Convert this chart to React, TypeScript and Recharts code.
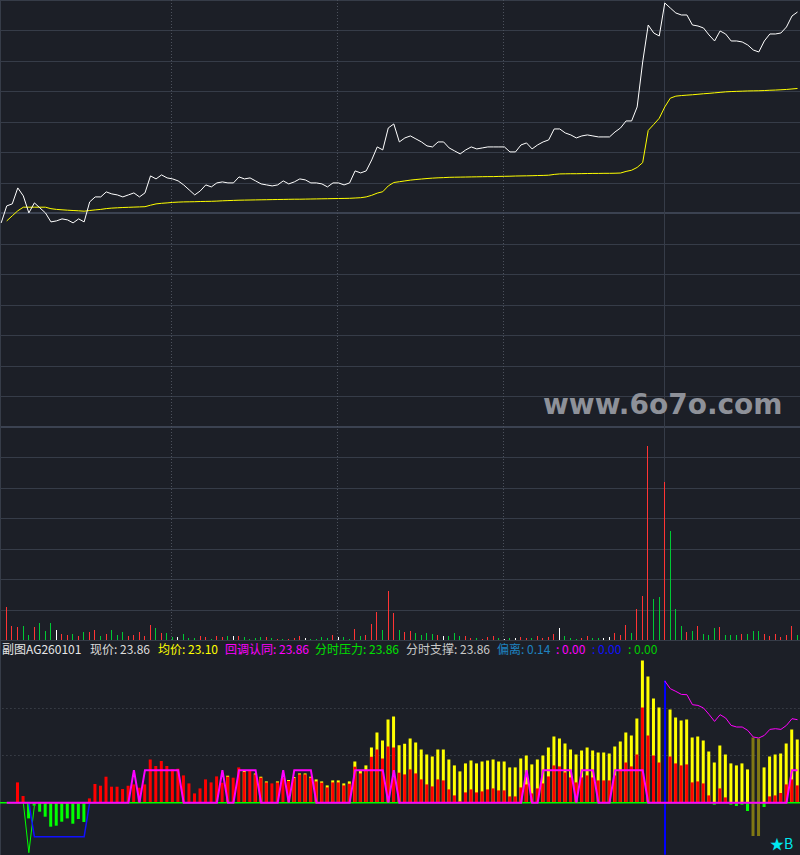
import { ComposedChart, Bar, Line, XAxis, YAxis, CartesianGrid, Cell, ReferenceLine } from "recharts";

/* 分时: price (white) and average price (yellow), one value per minute */
const PRICE = [
  21.75, 21.92, 21.94, 22.10, 22.02, 21.85, 21.95, 21.90, 21.85, 21.76,
  21.77, 21.79, 21.78, 21.75, 21.79, 21.76, 21.96, 22.01, 22.01, 22.06,
  22.04, 22.03, 22.01, 22.03, 22.05, 22.01, 22.05, 22.22, 22.19, 22.23,
  22.20, 22.19, 22.17, 22.13, 22.08, 22.03, 22.07, 22.13, 22.11, 22.15,
  22.16, 22.15, 22.15, 22.21, 22.19, 22.20, 22.17, 22.14, 22.13, 22.12,
  22.13, 22.17, 22.14, 22.16, 22.19, 22.18, 22.15, 22.15, 22.14, 22.11,
  22.15, 22.15, 22.13, 22.15, 22.27, 22.25, 22.27, 22.38, 22.51, 22.48,
  22.70, 22.74, 22.56, 22.60, 22.62, 22.59, 22.56, 22.52, 22.51, 22.56,
  22.56, 22.50, 22.47, 22.44, 22.48, 22.51, 22.49, 22.50, 22.51, 22.51,
  22.51, 22.51, 22.46, 22.46, 22.53, 22.55, 22.49, 22.53, 22.56, 22.58,
  22.69, 22.69, 22.65, 22.63, 22.60, 22.62, 22.63, 22.62, 22.61, 22.61,
  22.61, 22.66, 22.70, 22.77, 22.77, 22.91, 23.36, 23.73, 23.65, 23.62,
  23.95, 23.90, 23.85, 23.83, 23.83, 23.73, 23.72, 23.70, 23.63, 23.57,
  23.67, 23.64, 23.57, 23.57, 23.56, 23.53, 23.48, 23.46, 23.57, 23.64,
  23.64, 23.65, 23.71, 23.82, 23.86,
];

const AVG = [
  null, 21.770, 21.821, 21.871, 21.907, 21.907, 21.907, 21.907, 21.907, 21.892,
  21.885, 21.881, 21.877, 21.874, 21.871, 21.867, 21.874, 21.880, 21.885, 21.893,
  21.898, 21.901, 21.904, 21.906, 21.908, 21.910, 21.912, 21.927, 21.940, 21.946,
  21.950, 21.955, 21.958, 21.960, 21.961, 21.962, 21.964, 21.965, 21.966, 21.968,
  21.971, 21.973, 21.975, 21.977, 21.978, 21.979, 21.980, 21.981, 21.982, 21.983,
  21.984, 21.985, 21.986, 21.987, 21.987, 21.988, 21.989, 21.990, 21.991, 21.992,
  21.993, 21.994, 21.995, 21.996, 21.999, 22.002, 22.010, 22.026, 22.048, 22.062,
  22.120, 22.154, 22.162, 22.170, 22.178, 22.184, 22.189, 22.194, 22.198, 22.201,
  22.203, 22.206, 22.207, 22.208, 22.209, 22.210, 22.211, 22.212, 22.213, 22.213,
  22.215, 22.216, 22.217, 22.219, 22.220, 22.221, 22.222, 22.224, 22.225, 22.227,
  22.235, 22.240, 22.241, 22.242, 22.242, 22.243, 22.244, 22.245, 22.245, 22.246,
  22.246, 22.247, 22.249, 22.265, 22.277, 22.305, 22.353, 22.675, 22.735, 22.797,
  22.910, 22.998, 23.018, 23.024, 23.028, 23.032, 23.037, 23.042, 23.046, 23.051,
  23.056, 23.061, 23.064, 23.066, 23.068, 23.070, 23.071, 23.072, 23.074, 23.077,
  23.079, 23.082, 23.085, 23.090, 23.095,
];

const VOLUME = [
  0, 666, 280, 266, 280, 100, 266, 346, 186, 346,
  200, 120, 100, 120, 80, 166, 154, 200, 80, 120,
  200, 100, 166, 80, 100, 166, 80, 300, 234, 146,
  134, 66, 54, 120, 40, 40, 80, 54, 26, 80,
  54, 80, 80, 80, 54, 26, 40, 54, 54, 40,
  26, 26, 26, 40, 80, 40, 26, 26, 54, 40,
  100, 54, 66, 26, 214, 80, 100, 320, 566, 200,
  986, 546, 200, 166, 180, 146, 100, 146, 120, 100,
  80, 80, 146, 80, 80, 46, 46, 20, 66, 80,
  46, 20, 40, 46, 66, 46, 34, 80, 46, 66,
  120, 240, 80, 40, 20, 34, 80, 40, 40, 40,
  54, 140, 100, 300, 146, 614, 886, 3880, 820, 866,
  3166, 2180, 614, 280, 166, 180, 280, 120, 100, 246,
  266, 100, 100, 100, 120, 120, 180, 180, 120, 80,
  120, 66, 100, 280, 100,
];

// R = up, G = down, W = unchanged
const VOL_DIR = (
  "W" +
  "RRRGGRGGGW" + "RRGRGRRGRG" + "GGRRRRRGRG" + "GWGGGRRGRR" + "GWRGGGGRGR" +
  "GRRRWGGGGR" + "WGGRGRRRGR" + "RGRRGGGGRW" + "GGGRRGRRRG" + "WGWRRGRRRR" +
  "WGGGRRGGWW" + "RRRGRRRGGR" + "GGGRGRGGGR" + "GGGRGGGRRR" + "RRRG"
).split("");

/* 副图 */
const SUB_YELLOW = [
  0, 0, 0, 0, 0, 0, 0, 0, 0, 0,
  0, 0, 0, 0, 0, 0, 0, 0, 0, 0,
  0, 0, 0, 0, 0, 0, 0, 0, 0, 0,
  0, 0, 0, 0, 0, 0, 0, 0, 0, 0,
  0, 27, 0, 0, 31.7, 0, 29.3, 26, 21.3, 0,
  21.3, 0, 22.7, 25.7, 29.3, 29.3, 26, 23.3, 21.3, 17.3,
  22.3, 22.3, 19.3, 21.3, 41.3, 32.3, 37.3, 55.3, 70.3, 62.3,
  83.3, 86.3, 57.5, 59, 64.3, 60.3, 53.3, 48.3, 46.3, 53.3,
  53.3, 43.3, 37.3, 31.3, 39.3, 42.3, 39.3, 41.3, 42.3, 43.3,
  41.3, 41.3, 35.3, 35.3, 44.3, 47.3, 38.3, 43.3, 47.3, 55.3,
  66.3, 64.3, 59.3, 53.3, 48.3, 52.3, 55.3, 52.3, 50.3, 50.3,
  49.3, 56.3, 61.3, 70.3, 67.3, 84.3, 142.3, 126.3, 104.3, 95.3,
  0, 93.3, 85.3, 82.3, 83.3, 65.3, 66.3, 62.3, 51.3, 40.3,
  57.3, 48.3, 39.3, 37.3, 39.3, 33.3, 0, 0, 35.3, 46.3,
  48.3, 49.3, 59.3, 73.3, 63.3,
];

const SUB_RED = [
  0, 0, 0, 20.3, 6.7, 0, 0, 0, 0, 0,
  0, 0, 0, 0, 0, 0, 4.3, 18.7, 17, 26,
  16, 16, 13.7, 17, 18.3, 15, 18.3, 43.3, 36.7, 41.7,
  36.7, 33.3, 34, 27.3, 19.3, 9.3, 14.3, 23.3, 20.3, 26.3,
  20, 26, 25, 35.3, 30.7, 32.7, 28.3, 25, 20.3, 19.3,
  20.3, 25, 21.7, 24.7, 28.3, 28.3, 25, 21.3, 20, 15.3,
  20.3, 20.3, 17.3, 19, 36, 29.3, 31.7, 46, 53.3, 44.3,
  56.3, 55.3, 30, 28.3, 33.3, 29.3, 23.3, 18.3, 16.3, 23.3,
  22.3, 13.3, 7.3, 1.3, 10.3, 13.3, 10.3, 11.3, 13.3, 14.3,
  12.3, 12.3, 6.3, 6.3, 15.3, 18.3, 9.3, 14.3, 19.3, 26.3,
  37.3, 36.3, 30.3, 25.3, 20.3, 25.3, 27.3, 25.3, 22.3, 22.3,
  22.3, 27.3, 32.3, 40.3, 36.3, 48.3, 95.3, 67.3, 47.3, 40.3,
  0, 46.3, 39.3, 37.3, 38.3, 20.3, 21.3, 19.3, 7.3, 0,
  14.3, 5.3, 0, 0, 0, 0, 0, 0, 0, 6.3,
  7.3, 9.7, 18.3, 23.3, 17.3,
];

const SUB_GREEN = [
  0, 0, 0, 0, 0, -15.7, -3, -9, -14, -24,
  -23, -19, -15.7, -21, -16.3, -19.3, 0, 0, 0, 0,
  0, 0, 0, 0, 0, 0, 0, 0, 0, 0,
  0, 0, 0, 0, 0, 0, 0, 0, 0, 0,
  0, 0, 0, 0, 0, 0, 0, 0, 0, 0,
  0, 0, 0, 0, 0, 0, 0, 0, 0, 0,
  0, 0, 0, 0, 0, 0, 0, 0, 0, 0,
  0, 0, 0, 0, 0, 0, 0, 0, 0, 0,
  0, 0, 0, 0, 0, 0, 0, 0, 0, 0,
  0, 0, 0, 0, 0, 0, 0, 0, 0, 0,
  0, 0, 0, 0, 0, 0, 0, 0, 0, 0,
  0, 0, 0, 0, 0, 0, 0, 0, 0, 0,
  0, 0, 0, 0, 0, 0, 0, 0, 0, -2,
  0, 0, -2, -3.3, -2, -8.3, 0, 0, -4.3, 0,
  0, 0, 0, 0, 0,
];

// 回调认同 (thick magenta)
const HUI = [
  null, 0, 0, 0, 0, 0, 0, 0, 0, 0,
  0, 0, 0, 0, 0, 0, 0, 0, 0, 0,
  0, 0, 0, 0, 32.5, 0, 32.5, 32.5, 32.5, 32.5,
  32.5, 32.5, 32.5, 0, 0, 0, 0, 0, 0, 0,
  32.5, 0, 0, 32.5, 32.5, 32.5, 32.5, 0, 0, 0,
  0, 32.5, 0, 32.5, 32.5, 32.5, 32.5, 0, 0, 0,
  0, 0, 0, 0, 32.5, 32.5, 32.5, 32.5, 32.5, 32.5,
  0, 32.5, 0, 0, 0, 0, 0, 0, 0, 0,
  0, 0, 0, 0, 0, 0, 0, 0, 0, 0,
  0, 0, 0, 0, 0, 32.5, 0, 0, 32.5, 32.5,
  32.5, 32.5, 32.5, 32.5, 0, 32.5, 32.5, 32.5, 0, 0,
  0, 32.5, 32.5, 32.5, 32.5, 32.5, 32.5, 0, 0, 0,
  0, 0, 0, 0, 0, 0, 0, 0, 0, 0,
  0, 0, 0, 0, 0, 0, 0, 0, 0, 0,
  0, 0, 0, 32.5, 32.5,
];

// thin magenta line, starts at minute 120
const DEV_START = 120;
const DEV_LINE = [
  121.7, 114, 111.3, 108.3, 108, 98, 97.3, 94.7, 88.3, 81.3,
  88, 84.7, 77.3, 75.7, 75.7, 72.3, 65.7, 64.7, 67.3, 73.3,
  74, 73.3, 77.3, 84, 83,
];

// blue step line, starts at minute 5
const BLUE_START = 5;
const BLUE_LINE = [0, -34, -34, -34, -34, -34, -34, -34, -34, -34, -34, 0];

// thin green dip, starts at minute 4
const GREEN_V_START = 4;
const GREEN_V = [0, -50, -3];

const OLIVE_BARS: Record<number, [number, number]> = { 136: [-33.3, 65.3], 137: [-33.3, 64.3] };
const BLUE_BARS: Record<number, [number, number]> = { 120: [-52, 122.3] };

/* scales */
const PRE_CLOSE = 21.845;
const STEP = 0.305;
const VOL_STEP = 609.6;
const PLOT_H = 640.2;
const ROW = PLOT_H / 21;
const SUB_MAX = 162.7;
const SUB_MIN = -52.3;
const SUB_H = 215;

const BG = "#1c1f27";
const GRID = "#363c48";
const DIR_COLORS: Record<string, string> = { R: "#ff3434", G: "#00c834", W: "#ffffff" };
const MARGIN = { top: 0, right: -0.28, bottom: 0, left: -1.57 };

const mainData = PRICE.map((p, j) => ({ j, price: p, avg: AVG[j], vol: VOLUME[j] }));

const subData = PRICE.map((_, j) => ({
  j,
  yellow: SUB_YELLOW[j],
  red: SUB_RED[j],
  green: SUB_GREEN[j],
  hui: HUI[j],
  dev: j >= DEV_START ? DEV_LINE[j - DEV_START] : null,
  blue: BLUE_LINE[j - BLUE_START] ?? null,
  gv: GREEN_V[j - GREEN_V_START] ?? null,
  olive: OLIVE_BARS[j] ?? null,
  blueBar: BLUE_BARS[j] ?? null,
}));

const gridY = Array.from({ length: 22 }, (_, k) => Math.round(k * ROW) + 0.5);
const subY = (v: number) => Math.round(((SUB_MAX - v) * SUB_H) / (SUB_MAX - SUB_MIN)) + 0.5;

const HEADER = [
  { text: "副图AG260101", left: 2, color: "#e6e6e6" },
  { text: "现价: 23.86", left: 90, color: "#dcdcdc" },
  { text: "均价: 23.10", left: 158, color: "#ffff00" },
  { text: "回调认同: 23.86", left: 225, color: "#ff00ff" },
  { text: "分时压力: 23.86", left: 315, color: "#00e000" },
  { text: "分时支撑: 23.86", left: 406, color: "#c8c8c8" },
  { text: "偏离: 0.14", left: 497, color: "#1e82c0" },
  { text: ": 0.00", left: 556, color: "#ff00ff" },
  { text: ": 0.00", left: 592, color: "#1010ff" },
  { text: ": 0.00", left: 628, color: "#00d000" },
];

export default function App() {
  return (
    <div style={{ position: "absolute", left: 0, top: 0, width: 800, height: 855, background: BG, overflow: "hidden" }}>
      <div style={{ position: "absolute", left: 0, top: 0 }}>
        <ComposedChart width={800} height={641} data={mainData} margin={{ ...MARGIN, bottom: 0.8 }}>
          <CartesianGrid horizontalPoints={gridY} vertical={false} stroke={GRID} />
          <CartesianGrid horizontalPoints={[Math.round(7 * ROW), Math.round(14 * ROW)]} vertical={false} stroke="#3b4251" strokeWidth={2} />
          <CartesianGrid verticalPoints={[171.5, 337.5, 503.5]} horizontal={false} stroke="#4c515c" strokeDasharray="1 2" />
          <CartesianGrid verticalPoints={[0.5, 664.5]} horizontal={false} stroke={GRID} />
          <XAxis dataKey="j" hide />
          <YAxis yAxisId="p" hide domain={[PRE_CLOSE - 14 * STEP, PRE_CLOSE + 7 * STEP]} allowDataOverflow />
          <YAxis yAxisId="v" hide domain={[0, 21 * VOL_STEP]} allowDataOverflow />
          <Bar yAxisId="v" dataKey="vol" barSize={1} isAnimationActive={false} shapeRendering="crispEdges">
            {mainData.map((d) => (
              <Cell key={d.j} fill={DIR_COLORS[VOL_DIR[d.j]]} />
            ))}
          </Bar>
          <Line yAxisId="p" dataKey="avg" stroke="#ffff00" strokeWidth={1} dot={false} activeDot={false} isAnimationActive={false} />
          <Line yAxisId="p" dataKey="price" stroke="#ffffff" strokeWidth={1} dot={false} activeDot={false} isAnimationActive={false} />
        </ComposedChart>
      </div>

      <div style={{ position: "absolute", left: 0, top: 640 }}>
        <ComposedChart width={800} height={SUB_H} data={subData} margin={MARGIN}>
          <CartesianGrid horizontalPoints={[subY(47.5), subY(95)]} vertical={false} stroke="#4c515c" strokeDasharray="1 3" />
          <CartesianGrid verticalPoints={[0.5]} horizontal={false} stroke={GRID} />
          <XAxis xAxisId="a" dataKey="j" hide />
          <XAxis xAxisId="b" dataKey="j" hide />
          <XAxis xAxisId="c" dataKey="j" hide />
          <XAxis xAxisId="d" dataKey="j" hide />
          <XAxis xAxisId="e" dataKey="j" hide />
          <YAxis hide domain={[SUB_MIN, SUB_MAX]} allowDataOverflow />
          <Bar xAxisId="a" dataKey="yellow" fill="#ffff00" barSize={3} isAnimationActive={false} />
          <Bar xAxisId="b" dataKey="red" fill="#ff0000" barSize={3} isAnimationActive={false} />
          <Bar xAxisId="c" dataKey="green" fill="#00ff00" barSize={3} isAnimationActive={false} />
          <Bar xAxisId="d" dataKey="olive" fill="#807814" barSize={3} isAnimationActive={false} />
          <ReferenceLine xAxisId="a" y={0} stroke="#00ff00" strokeWidth={1.5} segment={[{ x: 1, y: 0 }, { x: 144, y: 0 }]} />
          <Line xAxisId="a" dataKey="gv" stroke="#00ff00" strokeWidth={1} dot={false} activeDot={false} isAnimationActive={false} />
          <Line xAxisId="a" dataKey="blue" stroke="#1010ff" strokeWidth={1.5} dot={false} activeDot={false} isAnimationActive={false} />
          <Line xAxisId="a" dataKey="hui" stroke="#ff00ff" strokeWidth={2} dot={false} activeDot={false} isAnimationActive={false} />
          <Line xAxisId="a" dataKey="dev" stroke="#ff00ff" strokeWidth={1} dot={false} activeDot={false} isAnimationActive={false} />
          <Bar xAxisId="e" dataKey="blueBar" fill="#0000ff" barSize={2} isAnimationActive={false} />
        </ComposedChart>
      </div>

      {HEADER.map((h) => (
        <span
          key={h.left}
          style={{ position: "absolute", left: h.left, top: 642, fontSize: 12, lineHeight: "14px", color: h.color, fontFamily: "'Noto Sans CJK SC', 'Noto Sans', sans-serif", whiteSpace: "nowrap" }}
        >
          {h.text}
        </span>
      ))}

      <span style={{ position: "absolute", left: 770, top: 835, fontSize: 14, lineHeight: "16px", color: "#00e8f0", fontFamily: "'Noto Sans CJK SC', sans-serif" }}>
        ★B
      </span>

      <span style={{ position: "absolute", left: 543, top: 388, fontSize: 28, lineHeight: "34px", fontWeight: "bold", color: "#8e9199", fontFamily: "'DejaVu Sans', sans-serif" }}>
        www.6o7o.com
      </span>
    </div>
  );
}
